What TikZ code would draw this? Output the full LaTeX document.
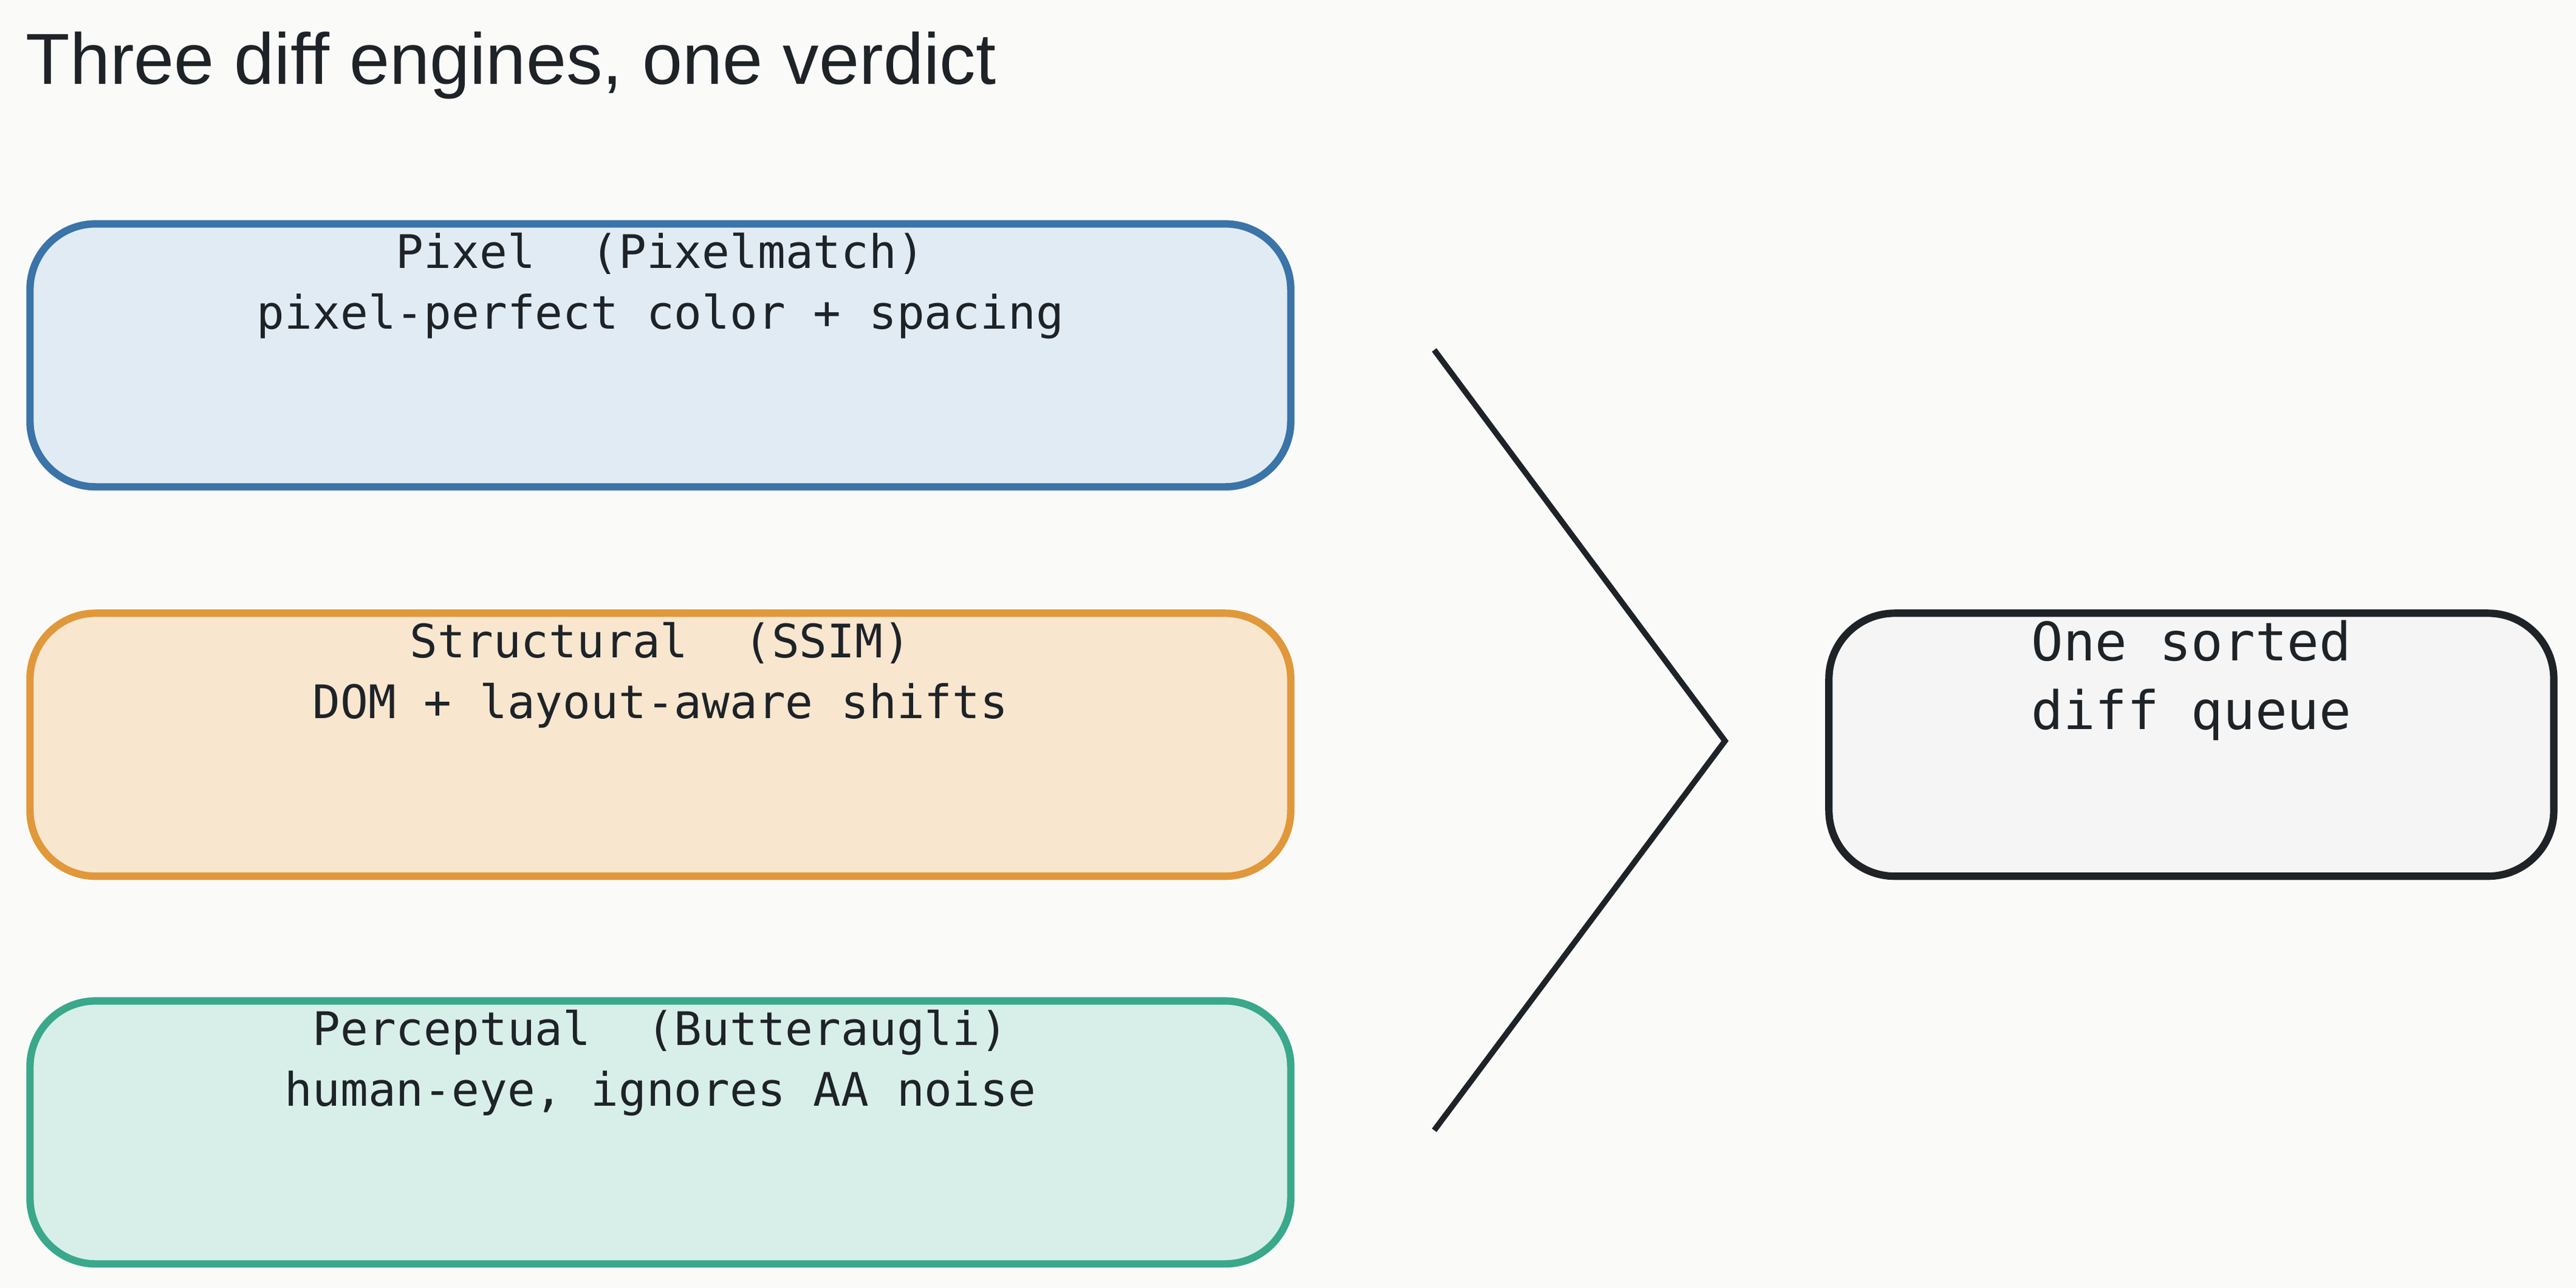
\documentclass[tikz,border=0pt]{standalone}
\usepackage{fontspec}
\setmainfont{Liberation Sans}
\setmonofont{DejaVu Sans Mono}
\usetikzlibrary{positioning}
\definecolor{bgc}{HTML}{FAFAF8}
\definecolor{blueline}{HTML}{3A74A8}
\definecolor{bluefill}{HTML}{E1EBF4}
\definecolor{orangeline}{HTML}{E0983A}
\definecolor{orangefill}{HTML}{F8E6CE}
\definecolor{greenline}{HTML}{3AA88A}
\definecolor{greenfill}{HTML}{D7EFE8}
\definecolor{inkc}{HTML}{1E2328}
\definecolor{greyfill}{HTML}{F5F5F5}
\begin{document}
\begin{tikzpicture}
    [
        x=0.01cm, y=-0.01cm,
        engine_box/.style={rectangle, rounded corners=4mm, line width=0.45mm, minimum width=7.67cm, minimum height=1.6cm, anchor=north west},
        box_text/.style={font=\ttfamily\fontsize{8}{10.5}\selectfont, text=inkc, align=center, anchor=north, inner sep=0pt},
    ]
        \fill[bgc] (0,0) rectangle (1568,784) ;
        \node[font=\fontsize{12.5}{14}\selectfont, text=inkc, anchor=west, inner sep=0pt] (title) at (15,40) {Three diff engines, one verdict} ;
        % engines
        \node[engine_box, draw=blueline, fill=bluefill] (pixel) at (16,134) {} ;
        \node[box_text, below=0.07cm of pixel.north] (pixeltxt) {Pixel\ \ (Pixelmatch)\\pixel-perfect color + spacing} ;
        \node[engine_box, draw=orangeline, fill=orangefill] (struct) at (16,371) {} ;
        \node[box_text, below=0.07cm of struct.north] (structtxt) {Structural\ \ (SSIM)\\DOM + layout-aware shifts} ;
        \node[engine_box, draw=greenline, fill=greenfill] (percep) at (16,607) {} ;
        \node[box_text, below=0.07cm of percep.north] (perceptxt) {Perceptual\ \ (Butteraugli)\\human-eye, ignores AA noise} ;
        % verdict
        \node[engine_box, draw=inkc, fill=greyfill, minimum width=4.41cm] (queue) at (1111,371) {} ;
        \node[box_text, font=\ttfamily\fontsize{9.2}{11.8}\selectfont, align=left, below=0.06cm of queue.north] (queuetxt) {One sorted\\diff queue} ;
        \coordinate (top) at (873,213) ;
        \coordinate (apex) at (1050,451) ;
        \coordinate (bottom) at (873,688) ;
        \draw[line width=0.35mm, color=inkc] (top) -- (apex) -- (bottom) ;
\end{tikzpicture}
\end{document}
